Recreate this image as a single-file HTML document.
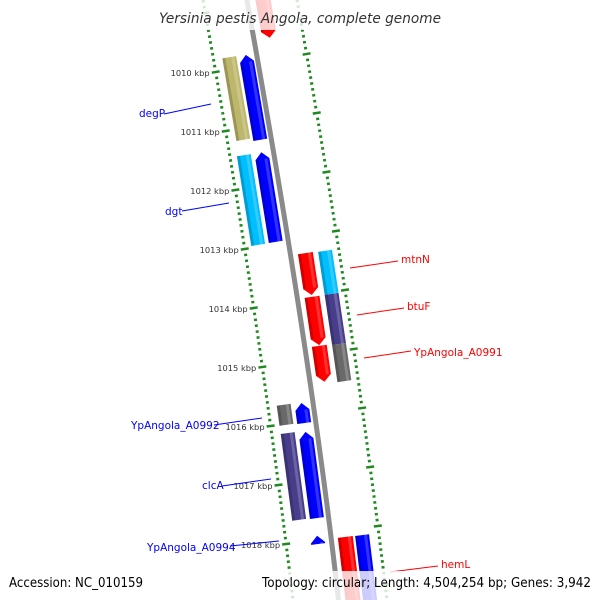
<!DOCTYPE html>
<html><head><meta charset="utf-8"><style>
html,body{margin:0;padding:0;background:#fff;}
svg{display:block;font-family:"DejaVu Sans","Liberation Sans",sans-serif;}
</style></head><body>
<svg id="map" width="600" height="600" viewBox="0 0 600 600" xmlns="http://www.w3.org/2000/svg">
<rect x="0" y="0" width="600" height="600" fill="#fff"/>
<path d="M246,-5 Q312,360 339,605" fill="none" stroke="#8a8a8a" stroke-width="5"/>
<g id="ticks"></g>
<g id="feats"></g>
<g id="labels"></g>
<rect x="0" y="0" width="600" height="30" fill="#fff" opacity="0.8"/>
<rect x="0" y="571" width="600" height="29" fill="#fff" opacity="0.8"/>
<text x="300" y="23" text-anchor="middle" font-size="14" font-style="italic" fill="#333" textLength="282" lengthAdjust="spacingAndGlyphs">Yersinia pestis Angola, complete genome</text>
<text x="9" y="587" font-size="13" fill="#000" textLength="134" lengthAdjust="spacingAndGlyphs">Accession: NC_010159</text>
<text x="591" y="587" text-anchor="end" font-size="13" fill="#000" textLength="329" lengthAdjust="spacingAndGlyphs">Topology: circular; Length: 4,504,254 bp; Genes: 3,942</text>
</svg>
<script>
// ---- data ----
var featNames  = ["top-cds","degP","degP-cds","dgt","dgt-cds","mtnN-cds","btuF-cds","A0991-cds","mtnN","btuF","A0991","A0992","A0992-cds","clcA","clcA-cds","A0994-cds","hemL-cds","hemL"];
var featStart  = [1008.70,1009.75,1009.71,1011.41,1011.36,1013.07,1013.81,1014.64,1013.03,1013.76,1014.61,1015.64,1015.61,1016.12,1016.10,1017.86,1017.88,1017.85];
var featEnd    = [1009.42,1011.15,1011.15,1012.93,1012.88,1013.78,1014.63,1015.25,1013.76,1014.61,1015.24,1015.98,1015.95,1017.59,1017.56,1018.00,1019.10,1019.10];
var featLane   = [16,-28,-11,-30,-12,16,16,16,36,36,36,-28,-10,-28,-10,-12,16,33];
var featArrow  = ["down","none","up","none","up","down","down","down","none","none","none","none","up","none","up","up","none","none"];
var featColor  = ["#ff0000","#bdb76b","#0000ff","#00bfff","#0000ff","#ff0000","#ff0000","#ff0000","#00bfff","#483d8b","#696969","#696969","#0000ff","#483d8b","#0000ff","#0000ff","#ff0000","#0000ff"];
var tickKbp    = [1010,1011,1012,1013,1014,1015,1016,1017,1018];
var tickLabels = ["1010 kbp","1011 kbp","1012 kbp","1013 kbp","1014 kbp","1015 kbp","1016 kbp","1017 kbp","1018 kbp"];

var NS="http://www.w3.org/2000/svg";
function yScale(k){return 72+(k-1010)*59;}
function xb(y){return 247+0.18*y-0.00005*y*y;}
function ang(y){return Math.atan(0.18-0.0001*y);}
function mk(tag,attrs,parent){var e=document.createElementNS(NS,tag);for(var a in attrs)e.setAttribute(a,attrs[a]);parent.appendChild(e);return e;}

// ticks
var tg=document.getElementById('ticks');
function ring(off,shift,name){
  for(var i=0;i<=120;i++){
    var k=1008.5+i*0.1;var y=yScale(k)+shift;
    if(y<-5||y>605)continue;
    var a=ang(y);var x=xb(y)+off;
    var major=Math.abs((k*10)%10)<0.01||Math.abs((k*10)%10-10)<0.01;
    var len=major?8:3;
    var dx=Math.cos(a)*len/2,dy=-Math.sin(a)*len/2;
    var l=mk('line',{x1:x-dx,y1:y-dy,x2:x+dx,y2:y+dy,stroke:'#1f8a1f','stroke-width':major?2.5:2.5},tg);
    
    
  }
}
ring(-44,0,'left-ring');
ring(50,-18,'right-ring');
tickKbp.forEach(function(k,i){
  var y=yScale(k);var x=xb(y)-50;
  var t=mk('text',{x:x,y:y+4,'text-anchor':'end','font-size':'8.3',fill:'#333'},tg);
  t.textContent=tickLabels[i];
  
  
});

// features
var fg=document.getElementById('feats');
featNames.forEach(function(n,i){
  var y1=yScale(featStart[i]),y2=yScale(featEnd[i]);
  var cy=(y1+y2)/2,a=ang(cy),cx=xb(cy)+featLane[i];
  var L=(y2-y1)/Math.cos(a),w=(featColor[i]=="#ff0000")?15:14,h=7;
  var g=mk('g',{transform:'translate('+cx+','+cy+') rotate('+(-a*180/Math.PI)+')'},fg);
  
  
  var t=-L/2,b=L/2,l=-w/2,r=w/2,pts;
  if(featArrow[i]=="up")pts=[[l,t+h],[0,t],[r,t+h],[r,b],[l,b]];
  else if(featArrow[i]=="down")pts=[[l,t],[r,t],[r,b-h],[0,b],[l,b-h]];
  else pts=[[l,t],[r,t],[r,b],[l,b]];
  var s=pts.map(function(p){return p[0]+','+p[1];}).join(' ');
  mk('polygon',{points:s,fill:featColor[i]},g);
  mk('rect',{x:l,y:t+(featArrow[i]=="up"?h:0),width:3,height:L-(featArrow[i]!="none"?h:0),fill:'#000',opacity:0.18},g);
  mk('rect',{x:r-5,y:t+(featArrow[i]=="up"?h:0),width:3,height:L-(featArrow[i]!="none"?h:0),fill:'#fff',opacity:0.2},g);
});

// gene labels
var lg=document.getElementById('labels');
var labs=[
 ["degP",139,117,"start",164,114,211,104,"#0000ff"],
 ["dgt",165,215,"start",182,211,229,203,"#0000ff"],
 ["YpAngola_A0992",131,429,"start",214,425,262,418,"#0000ff"],
 ["clcA",202,489,"start",222,486,271,479,"#0000ff"],
 ["YpAngola_A0994",147,551,"start",230,546,279,541,"#0000ff"],
 ["mtnN",401,263,"start",350,268,398,261,"#ff0000"],
 ["btuF",407,310,"start",357,315,404,308,"#ff0000"],
 ["YpAngola_A0991",414,356,"start",364,358,411,351,"#ff0000"],
 ["hemL",441,568,"start",390,572,438,566,"#ff0000"]
];
labs.forEach(function(d){
  var ln=mk('line',{x1:d[4],y1:d[5],x2:d[6],y2:d[7],stroke:d[8],'stroke-width':1},lg);
  
  
  var t=mk('text',{x:d[1],y:d[2],'font-size':'10.5',fill:d[8]},lg);
  t.textContent=d[0];
  
  
});
</script>
</body></html>
